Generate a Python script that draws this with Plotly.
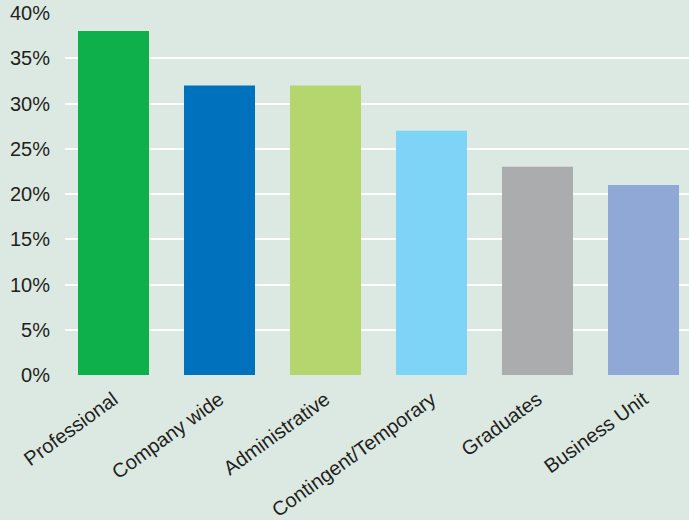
import plotly.graph_objects as go

categories = ["Professional", "Company wide", "Administrative",
              "Contingent/Temporary", "Graduates", "Business Unit"]
values = [38, 32, 32, 27, 23, 21]
colors = ["#0db04b", "#0071bc", "#b5d56f", "#7dd4f6", "#abacae", "#8fa8d6"]
y_ticks = [0, 5, 10, 15, 20, 25, 30, 35, 40]
y_tick_labels = [f"{v}%" for v in y_ticks]

bg = "#dce9e2"
font_family = "Liberation Sans, Arial, sans-serif"

fig = go.Figure(
    go.Bar(
        x=categories,
        y=values,
        marker=dict(color=colors, line=dict(width=0)),
        width=0.67,
        hoverinfo="x+y",
    )
)

fig.update_layout(
    width=689,
    height=520,
    margin=dict(l=65, r=0, t=13, b=145),
    paper_bgcolor=bg,
    plot_bgcolor=bg,
    showlegend=False,
    font=dict(family=font_family, color="#231f20"),
    xaxis=dict(
        range=[-0.4575, 5.4292],
        tickangle=-36,
        tickfont=dict(size=20),
        showgrid=False,
        zeroline=False,
        showline=False,
        ticks="",
        ticklabelstandoff=8,
    ),
    yaxis=dict(
        range=[0, 40],
        tickvals=y_ticks,
        ticktext=y_tick_labels,
        tickfont=dict(size=20),
        showgrid=True,
        gridcolor="#ffffff",
        gridwidth=1.5,
        zeroline=False,
        ticks="",
        ticklabelstandoff=14,
    ),
)

fig.write_html("out.html")
